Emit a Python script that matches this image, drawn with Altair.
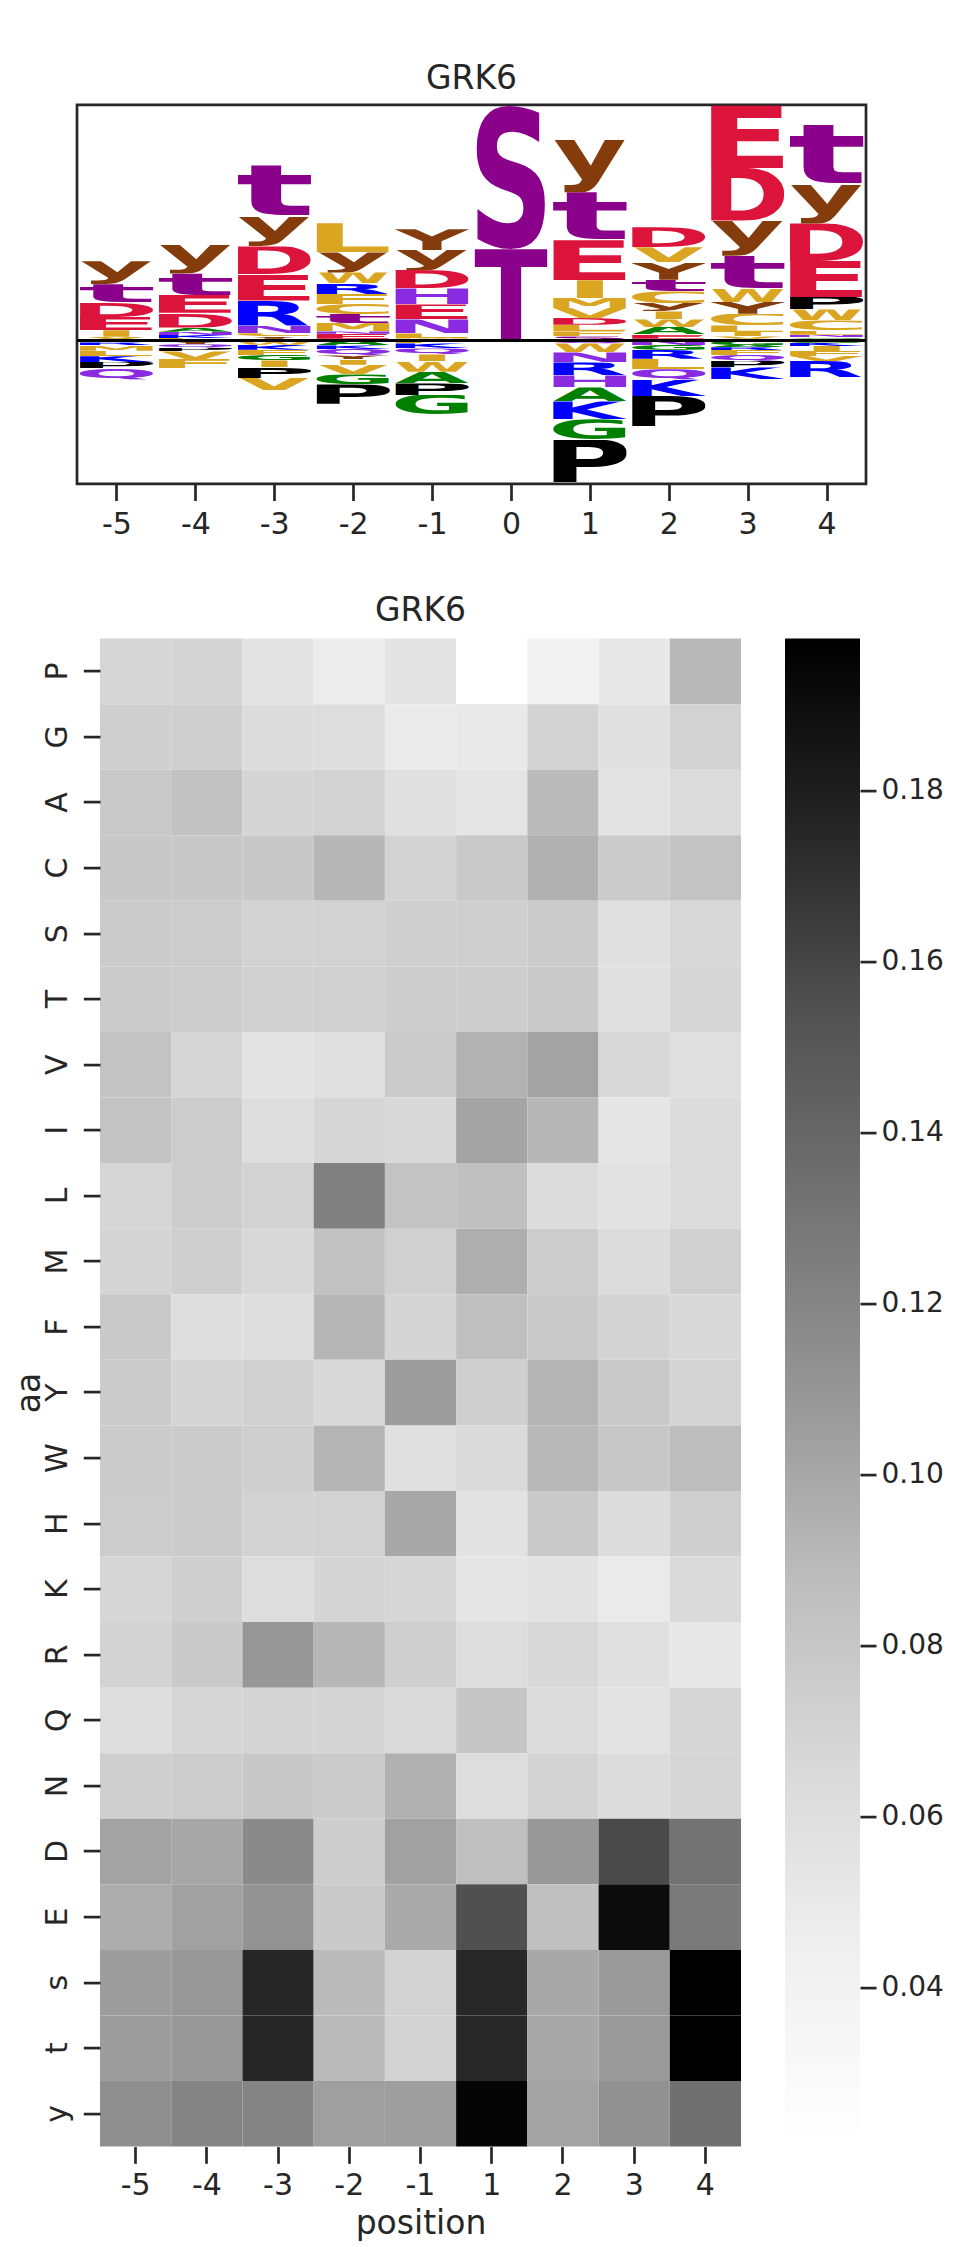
import base64
import altair as alt
import pandas as pd

# ---------------- heatmap values ----------------
aa_order = ["P", "G", "A", "C", "S", "T", "V", "I", "L", "M", "F", "Y", "W",
            "H", "K", "R", "Q", "N", "D", "E", "s", "t", "y"]
hm_positions = ["-5", "-4", "-3", "-2", "-1", "1", "2", "3", "4"]

hm_P = [0.0679, 0.0694, 0.0560, 0.0473, 0.0560, 0.0214, 0.0405, 0.0512, 0.0904]
hm_G = [0.0734, 0.0734, 0.0627, 0.0617, 0.0483, 0.0502, 0.0702, 0.0588, 0.0710]
hm_A = [0.0781, 0.0836, 0.0687, 0.0710, 0.0588, 0.0540, 0.0887, 0.0560, 0.0627]
hm_C = [0.0789, 0.0789, 0.0789, 0.0916, 0.0702, 0.0781, 0.0944, 0.0765, 0.0828]
hm_S = [0.0765, 0.0757, 0.0710, 0.0710, 0.0734, 0.0734, 0.0765, 0.0588, 0.0663]
hm_T = [0.0765, 0.0757, 0.0726, 0.0726, 0.0750, 0.0750, 0.0773, 0.0588, 0.0679]
hm_V = [0.0828, 0.0679, 0.0560, 0.0598, 0.0765, 0.0938, 0.1023, 0.0663, 0.0598]
hm_I = [0.0828, 0.0757, 0.0617, 0.0679, 0.0655, 0.1017, 0.0910, 0.0531, 0.0627]
hm_L = [0.0679, 0.0750, 0.0710, 0.1235, 0.0828, 0.0852, 0.0627, 0.0569, 0.0627]
hm_M = [0.0687, 0.0734, 0.0663, 0.0836, 0.0726, 0.0961, 0.0757, 0.0627, 0.0726]
hm_F = [0.0781, 0.0608, 0.0608, 0.0916, 0.0687, 0.0860, 0.0781, 0.0702, 0.0663]
hm_Y = [0.0765, 0.0694, 0.0726, 0.0655, 0.1062, 0.0734, 0.0927, 0.0781, 0.0687]
hm_W = [0.0765, 0.0765, 0.0734, 0.0927, 0.0588, 0.0646, 0.0904, 0.0797, 0.0876]
hm_H = [0.0757, 0.0765, 0.0710, 0.0710, 0.0995, 0.0569, 0.0781, 0.0627, 0.0734]
hm_K = [0.0679, 0.0734, 0.0617, 0.0687, 0.0671, 0.0540, 0.0569, 0.0493, 0.0646]
hm_R = [0.0702, 0.0773, 0.1091, 0.0910, 0.0734, 0.0608, 0.0663, 0.0588, 0.0512]
hm_Q = [0.0608, 0.0679, 0.0687, 0.0687, 0.0646, 0.0805, 0.0627, 0.0560, 0.0679]
hm_N = [0.0734, 0.0757, 0.0797, 0.0765, 0.0949, 0.0617, 0.0702, 0.0627, 0.0679]
hm_D = [0.1023, 0.1000, 0.1172, 0.0750, 0.1034, 0.0860, 0.1085, 0.1576, 0.1317]
hm_E = [0.0966, 0.1034, 0.1121, 0.0773, 0.0983, 0.1547, 0.0852, 0.1907, 0.1272]
hm_s = [0.1057, 0.1085, 0.1753, 0.0887, 0.0710, 0.1743, 0.0995, 0.1074, 0.1978]
hm_t = [0.1057, 0.1085, 0.1753, 0.0887, 0.0710, 0.1743, 0.0995, 0.1074, 0.1978]
hm_y = [0.1140, 0.1209, 0.1209, 0.1046, 0.1051, 0.1949, 0.1023, 0.1128, 0.1337]

hm_rows = [hm_P, hm_G, hm_A, hm_C, hm_S, hm_T, hm_V, hm_I, hm_L, hm_M, hm_F, hm_Y,
           hm_W, hm_H, hm_K, hm_R, hm_Q, hm_N, hm_D, hm_E, hm_s, hm_t, hm_y]

# ---------------- logo stacks (listed from the baseline outward) ----------------
logo_positions = [-5, -4, -3, -2, -1, 0, 1, 2, 3, 4]

lm5_letters = ["F", "V", "I", "E", "D", "t", "y", "G", "R", "M", "L", "K", "P", "Q"]
lm5_heights = [0.012, 0.025, 0.065, 0.133, 0.143, 0.183, 0.230,
               -0.020, -0.030, -0.052, -0.055, -0.058, -0.062, -0.115]
lm4_letters = ["C", "K", "N", "A", "D", "E", "t", "y", "W", "Y", "Q", "P", "V", "F"]
lm4_heights = [0.025, 0.028, 0.033, 0.043, 0.147, 0.177, 0.217, 0.286,
               -0.017, -0.020, -0.035, -0.038, -0.075, -0.095]
lm3_letters = ["L", "Y", "C", "N", "R", "E", "D", "y", "t",
               "M", "W", "K", "F", "G", "I", "P", "V"]
lm3_heights = [0.017, 0.022, 0.033, 0.077, 0.250, 0.260, 0.280, 0.300, 0.510,
               -0.013, -0.030, -0.050, -0.052, -0.055, -0.070, -0.105, -0.125]
lm2_letters = ["H", "E", "N", "M", "t", "C", "F", "R", "W", "y", "L",
               "A", "K", "Q", "Y", "I", "V", "G", "P"]
lm2_heights = [0.017, 0.050, 0.023, 0.083, 0.090, 0.100, 0.100, 0.107, 0.110, 0.200, 0.290,
               -0.050, -0.035, -0.065, -0.040, -0.053, -0.097, -0.100, -0.193]
lm1_letters = ["M", "L", "N", "E", "H", "D", "y", "Y",
               "F", "K", "Q", "I", "W", "A", "P", "G"]
lm1_heights = [0.020, 0.050, 0.140, 0.150, 0.160, 0.183, 0.200, 0.207,
               -0.030, -0.050, -0.060, -0.065, -0.107, -0.118, -0.115, -0.197]
l0_letters = ["T", "S"]
l0_heights = [0.913, 1.432]
l1_letters = ["S", "F", "L", "D", "V", "M", "I", "E", "t", "y",
              "Q", "W", "N", "R", "H", "A", "K", "G", "P"]
l1_heights = [0.040, 0.050, 0.067, 0.067, 0.100, 0.100, 0.177, 0.400, 0.480, 0.530,
              -0.030, -0.090, -0.100, -0.130, -0.120, -0.140, -0.178, -0.204, -0.422]
l2_letters = ["M", "E", "A", "W", "I", "y", "C", "t", "Y", "V", "D",
              "N", "G", "R", "L", "Q", "K", "P"]
l2_heights = [0.017, 0.043, 0.073, 0.077, 0.080, 0.083, 0.117, 0.117, 0.173, 0.150, 0.200,
              -0.045, -0.048, -0.090, -0.105, -0.105, -0.162, -0.300]
l3_letters = ["H", "V", "I", "L", "C", "Y", "W", "t", "y", "D", "E",
              "N", "G", "A", "R", "F", "Q", "P", "K"]
l3_heights = [0.017, 0.023, 0.043, 0.067, 0.117, 0.117, 0.133, 0.330, 0.351, 0.526, 0.627,
              -0.013, -0.033, -0.023, -0.027, -0.050, -0.057, -0.067, -0.120]
l4_letters = ["H", "G", "N", "L", "C", "W", "P", "E", "D", "y", "t",
              "A", "K", "I", "F", "V", "R"]
l4_heights = [0.017, 0.017, 0.023, 0.043, 0.100, 0.110, 0.125, 0.358, 0.376, 0.387, 0.598,
              -0.023, -0.033, -0.050, -0.050, -0.050, -0.160]

logo_letters = [lm5_letters, lm4_letters, lm3_letters, lm2_letters, lm1_letters,
                l0_letters, l1_letters, l2_letters, l3_letters, l4_letters]
logo_heights = [lm5_heights, lm4_heights, lm3_heights, lm2_heights, lm1_heights,
                l0_heights, l1_heights, l2_heights, l3_heights, l4_heights]

# ---------------- styles ----------------
TXT = "#262626"
FONT = "DejaVu Sans"
GREYS = ["#ffffff", "#f0f0f0", "#d9d9d9", "#bdbdbd", "#969696",
         "#737373", "#525252", "#252525", "#000000"]

PURPLE, BROWN, RED, BLUE, VIOLET, GREEN, GOLD = (
    "#8B008B", "#843C0C", "#DC143C", "#0000FF", "#8A2BE2", "#008000", "#DAA520")
letter_color = {"S": PURPLE, "T": PURPLE, "s": PURPLE, "t": PURPLE,
                "y": BROWN, "Y": BROWN, "D": RED, "E": RED, "R": BLUE, "K": BLUE,
                "H": VIOLET, "N": VIOLET, "Q": VIOLET, "P": "#000000",
                "G": GREEN, "A": GREEN}
# glyph ink box in em units (left, right, bottom, top) for DejaVu Sans Bold
CAP = (0.0, 0.729)
RND = (-0.015, 0.744)
glyph_box = {
    "A": (0.00, 0.774) + CAP, "C": (0.05, 0.68) + RND, "D": (0.09, 0.78) + CAP,
    "E": (0.09, 0.62) + CAP, "F": (0.09, 0.62) + CAP, "G": (0.05, 0.76) + RND,
    "H": (0.09, 0.75) + CAP, "I": (0.09, 0.28) + CAP, "K": (0.09, 0.80) + CAP,
    "L": (0.09, 0.62) + CAP, "M": (0.09, 0.91) + CAP, "N": (0.09, 0.75) + CAP,
    "P": (0.09, 0.69) + CAP, "Q": (0.05, 0.80, -0.17, 0.744), "R": (0.09, 0.77) + CAP,
    "S": (0.05, 0.67) + RND, "T": (0.00, 0.68) + CAP, "V": (0.00, 0.774) + CAP,
    "W": (0.01, 1.09) + CAP, "Y": (0.00, 0.724) + CAP,
    "s": (0.04, 0.55, -0.015, 0.562), "t": (0.02, 0.45, -0.015, 0.69),
    "y": (0.00, 0.652, -0.208, 0.547),
}


def glyph_url(ch):
    l, r, b, t = glyph_box[ch]
    if ch == "I":  # narrow glyphs are not stretched wider than E
        ew = glyph_box["E"][1] - glyph_box["E"][0]
        c = (l + r) / 2
        l, r = c - ew / 2, c + ew / 2
    vb = f"{l*100:.2f} {-t*100:.2f} {(r-l)*100:.2f} {(t-b)*100:.2f}"
    svg = ('<svg xmlns="http://www.w3.org/2000/svg" width="100" height="100" '
           f'viewBox="{vb}" preserveAspectRatio="none">'
           f'<text x="0" y="0" font-family="DejaVu Sans" font-weight="bold" '
           f'font-size="100" fill="{letter_color.get(ch, GOLD)}">{ch}</text></svg>')
    return "data:image/svg+xml;base64," + base64.b64encode(svg.encode()).decode()


# ---------------- tables ----------------
logo_rows = []
for p, lets, hs in zip(logo_positions, logo_letters, logo_heights):
    for k, (ch, h) in enumerate(zip(lets, hs)):
        logo_rows.append({"pos": p, "letter": ch, "h": h, "k": k, "url": glyph_url(ch)})
logo_df = pd.DataFrame(logo_rows)

hm_df = pd.DataFrame([
    {"aa": a, "position": p, "value": v}
    for a, row in zip(aa_order, hm_rows) for p, v in zip(hm_positions, row)
])
vmin = float(hm_df["value"].min())
vmax = float(hm_df["value"].max())
color_domain = [vmin + i * (vmax - vmin) / 8 for i in range(9)]


def title(text, offset):
    return alt.TitleParams(text, fontSize=33, font=FONT, fontWeight="normal", color=TXT,
                           offset=offset, anchor="middle", frame="group")


# ---------------- logo ----------------
letters = (
    alt.Chart(logo_df)
    .transform_stack(stack="h", groupby=["pos"], as_=["y0", "y1"],
                     sort=[alt.SortField("k", order="ascending")], offset="zero")
    .transform_calculate(xl="datum.pos - 0.465", xr="datum.pos + 0.465")
    .mark_image(aspect=False)
    .encode(
        x=alt.X("xl:Q", scale=alt.Scale(domain=[-5.5, 4.5], nice=False, zero=False),
                axis=alt.Axis(values=logo_positions, labelExpr="'' + datum.value",
                              domain=False, grid=False, title=None, tickSize=16.7,
                              tickWidth=2.7, tickColor=TXT, labelFontSize=30,
                              labelPadding=9.5, labelColor=TXT, labelFont=FONT)),
        x2="xr:Q",
        y=alt.Y("y0:Q", scale=alt.Scale(domain=[-1.433, 2.355], nice=False, zero=False),
                axis=None),
        y2="y1:Q",
        url="url:N",
    )
)
baseline = alt.Chart(logo_df).mark_rule(color="black", strokeWidth=1.6).encode(y=alt.datum(0))

logo = alt.layer(letters, baseline).properties(
    width=789, height=379, title=title("GRK6", 9),
    view=alt.ViewBackground(stroke=TXT, strokeWidth=2.7),
)

# ---------------- heatmap ----------------
heat = alt.Chart(hm_df).mark_rect().encode(
    x=alt.X("position:O", sort=hm_positions,
            axis=alt.Axis(labelAngle=0, domain=False, tickSize=16.7, tickWidth=2.7,
                          tickColor=TXT, labelFontSize=30, labelPadding=7.5, labelColor=TXT,
                          labelFont=FONT, title="position", titleFontSize=33,
                          titleFontWeight="normal", titleColor=TXT, titleFont=FONT,
                          titlePadding=7)),
    y=alt.Y("aa:O", sort=aa_order,
            axis=alt.Axis(labelAngle=270, labelAlign="center", labelBaseline="alphabetic",
                          domain=False, tickSize=16.7, tickWidth=2.7, tickColor=TXT,
                          labelFontSize=30, labelPadding=16.9, labelColor=TXT,
                          labelFont=FONT, title="aa", titleFontSize=33,
                          titleFontWeight="normal", titleColor=TXT, titleFont=FONT,
                          titlePadding=-4)),
    color=alt.Color("value:Q", scale=alt.Scale(domain=color_domain, range=GREYS,
                                               interpolate="rgb"), legend=None),
).properties(width=641, height=1508, title=title("GRK6", 10.5))

cb_df = pd.DataFrame({"lo": [vmin], "hi": [vmax]})
colorbar = alt.Chart(cb_df).mark_rect(
    color=alt.LinearGradient(
        gradient="linear", x1=0, x2=0, y1=1, y2=0,
        stops=[alt.GradientStop(color=c, offset=i / 8) for i, c in enumerate(GREYS)])
).encode(
    y=alt.Y("lo:Q", scale=alt.Scale(domain=[vmin, vmax], nice=False, zero=False),
            axis=alt.Axis(orient="right", values=[0.04, 0.06, 0.08, 0.10, 0.12, 0.14, 0.16, 0.18],
                          format=".2f", domain=False, grid=False, title=None, tickSize=16,
                          tickWidth=2.7, tickColor=TXT, labelFontSize=28, labelPadding=5,
                          labelColor=TXT, labelFont=FONT)),
    y2="hi:Q",
).properties(width=75, height=1508)

# invisible spacer: puts the heatmap's plot 23px to the right of the logo's plot
spacer = alt.Chart(cb_df).mark_point(opacity=0).properties(width=3, height=10)

heat_block = alt.hconcat(heat, colorbar, spacing=44, bounds="flush")
bottom = alt.hconcat(spacer, heat_block, spacing=20, bounds="flush")

chart = alt.vconcat(logo, bottom, spacing=52.8).properties(
    padding={"left": 5, "top": 52.8, "right": 0, "bottom": 0}
).configure(font=FONT).configure_view(strokeWidth=0)

chart.save("out.html", embed_options={"renderer": "svg", "actions": False})
